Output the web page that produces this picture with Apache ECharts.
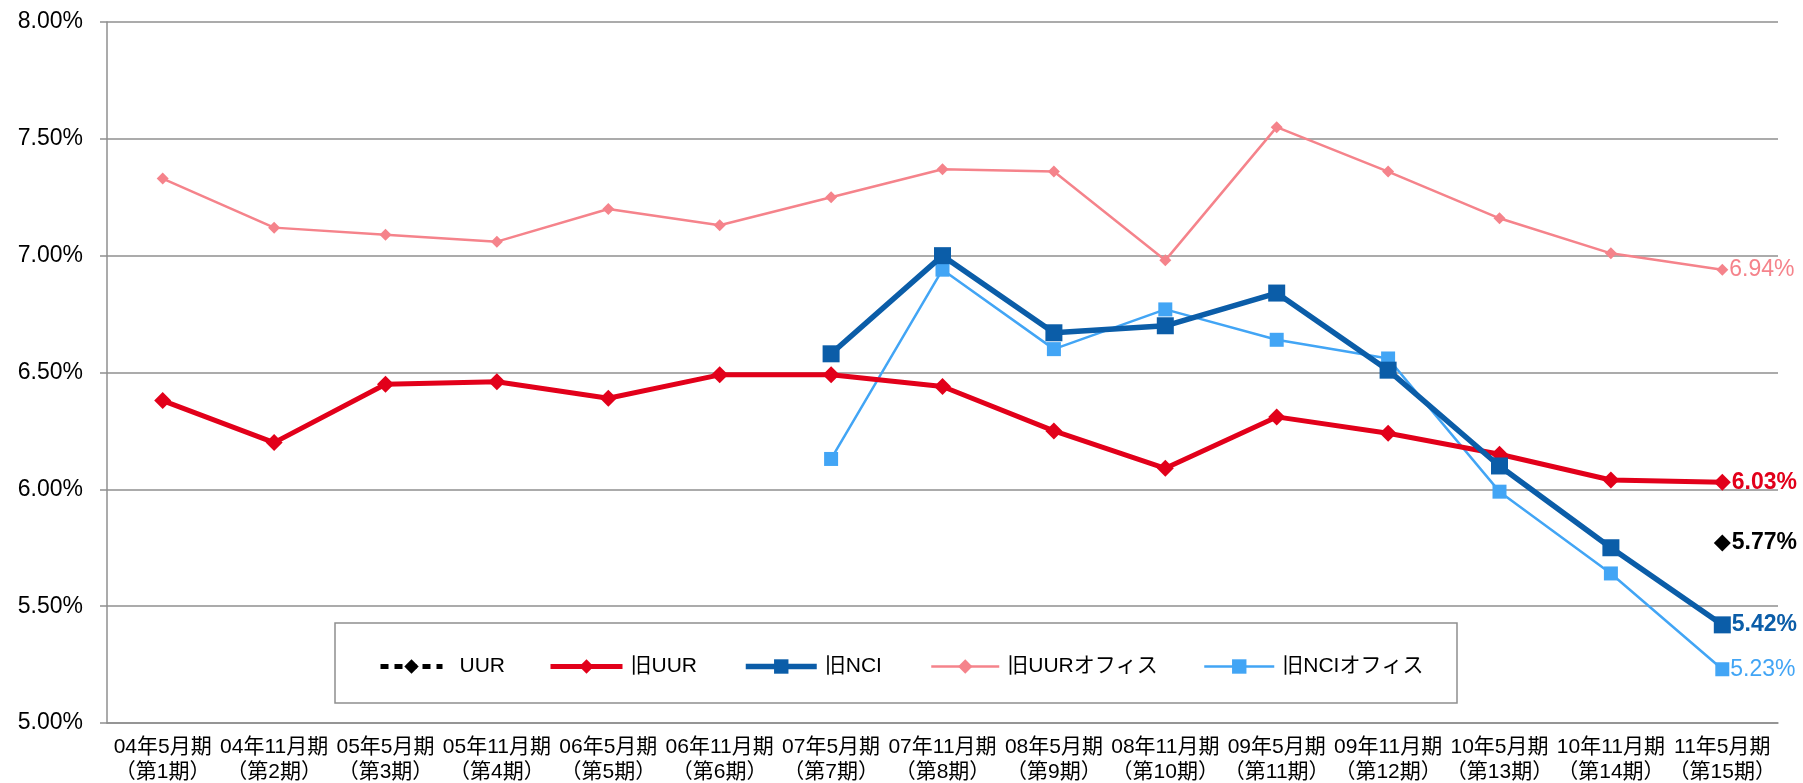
<!DOCTYPE html>
<html>
<head>
<meta charset="utf-8">
<script src="https://cdn.jsdelivr.net/npm/echarts@6/dist/echarts.min.js"></script>
<style>
  html, body { margin: 0; padding: 0; background: #fff; }
  #chart { width: 1803px; height: 783px; }
</style>
</head>
<body>
<div id="chart"></div>
<script>
// categories (fiscal periods)
const periods = [
  "04年5月期\n（第1期）", "04年11月期\n（第2期）", "05年5月期\n（第3期）", "05年11月期\n（第4期）",
  "06年5月期\n（第5期）", "06年11月期\n（第6期）", "07年5月期\n（第7期）", "07年11月期\n（第8期）",
  "08年5月期\n（第9期）", "08年11月期\n（第10期）", "09年5月期\n（第11期）", "09年11月期\n（第12期）",
  "10年5月期\n（第13期）", "10年11月期\n（第14期）", "11年5月期\n（第15期）"
];
// series values, in percent
const uur = [null, null, null, null, null, null, null, null, null, null, null, null, null, null, 5.77];
const oldUur = [6.38, 6.20, 6.45, 6.46, 6.39, 6.49, 6.49, 6.44, 6.25, 6.09, 6.31, 6.24, 6.15, 6.04, 6.03];
const oldNci = [null, null, null, null, null, null, 6.58, 7.00, 6.67, 6.70, 6.84, 6.51, 6.10, 5.75, 5.42];
const oldUurOffice = [7.33, 7.12, 7.09, 7.06, 7.20, 7.13, 7.25, 7.37, 7.36, 6.98, 7.55, 7.36, 7.16, 7.01, 6.94];
const oldNciOffice = [null, null, null, null, null, null, 6.13, 6.94, 6.60, 6.77, 6.64, 6.56, 5.99, 5.64, 5.23];
const seriesNames = ["UUR", "旧UUR", "旧NCI", "旧UURオフィス", "旧NCIオフィス"];

const FONT = '"Liberation Sans", Arial, "Noto Sans CJK JP", sans-serif';
const RED = "#E2001A", NAVY = "#0B5DA8", PINK = "#F5838B", SKY = "#42A5F5";

// only the last point carries a value label
function withEndLabel(arr, color, bold) {
  return arr.map((v, i) => i === arr.length - 1
    ? { value: v, label: { show: true, position: "right", distance: 1, color: color,
        fontSize: 23, fontWeight: bold ? "bold" : "normal", fontFamily: FONT,
        formatter: (p) => p.value.toFixed(2) + "%" } }
    : v);
}

// one legend per item so each entry sits where it does in the original
const legendLeft = [378, 548, 743, 930, 1203];
const legendIconW = [62, 72, 71, 68, 70];
const legends = seriesNames.map((name, i) => ({
  z: 5,
  left: legendLeft[i],
  top: 656,
  itemWidth: legendIconW[i],
  itemHeight: 18,
  padding: 0,
  lineStyle: { width: "inherit" },
  textStyle: { fontSize: 21, color: "#000", fontFamily: FONT, padding: [0, 0, 0, i === 0 ? 12 : 3] },
  data: [name]
}));

const chart = echarts.init(document.getElementById("chart"), null, { renderer: "canvas" });

chart.setOption({
  animation: false,
  backgroundColor: "#fff",
  textStyle: { fontFamily: FONT },
  grid: { left: 107, right: 25, top: 22, bottom: 60, containLabel: false, outerBoundsMode: "none" },
  // legend frame
  graphic: [{
    type: "rect",
    z: 1,
    shape: { x: 335, y: 623, width: 1122, height: 80 },
    style: { fill: "#fff", stroke: "#8f8f8f", lineWidth: 1.5 }
  }],
  legend: legends,
  xAxis: {
    type: "category",
    data: periods,
    boundaryGap: true,
    axisLine: { lineStyle: { color: "#8f8f8f", width: 1.5 } },
    axisTick: { show: false },
    axisLabel: { interval: 0, margin: 12, fontSize: 21, lineHeight: 25, color: "#000", fontFamily: FONT }
  },
  yAxis: {
    type: "value",
    min: 5,
    max: 8,
    interval: 0.5,
    axisLine: { show: true, lineStyle: { color: "#8f8f8f", width: 1.5 } },
    axisTick: { show: true, length: 7, lineStyle: { color: "#8f8f8f", width: 1.5 } },
    splitLine: { lineStyle: { color: "#8f8f8f", width: 1.5 } },
    axisLabel: { fontSize: 23, color: "#000", margin: 24, fontFamily: FONT,
      formatter: (v) => v.toFixed(2) + "%" }
  },
  series: [
    {
      name: "旧UURオフィス", type: "line", z: 2,
      data: withEndLabel(oldUurOffice, PINK, false),
      symbol: "diamond", symbolSize: 12,
      lineStyle: { color: PINK, width: 2.5 }, itemStyle: { color: PINK }
    },
    {
      name: "旧NCIオフィス", type: "line", z: 3,
      data: withEndLabel(oldNciOffice, SKY, false),
      symbol: "rect", symbolSize: 14,
      lineStyle: { color: SKY, width: 2.5 }, itemStyle: { color: SKY }
    },
    {
      name: "旧UUR", type: "line", z: 4,
      data: withEndLabel(oldUur, RED, true),
      symbol: "diamond", symbolSize: 17,
      lineStyle: { color: RED, width: 5 }, itemStyle: { color: RED }
    },
    {
      name: "旧NCI", type: "line", z: 5,
      data: withEndLabel(oldNci, NAVY, true),
      symbol: "rect", symbolSize: 17,
      lineStyle: { color: NAVY, width: 5.5 }, itemStyle: { color: NAVY }
    },
    {
      name: "UUR", type: "line", z: 6,
      data: withEndLabel(uur, "#000", true),
      symbol: "diamond", symbolSize: 17,
      lineStyle: { color: "#000", width: 5, type: [8, 6] }, itemStyle: { color: "#000" }
    }
  ]
});
</script>
</body>
</html>
